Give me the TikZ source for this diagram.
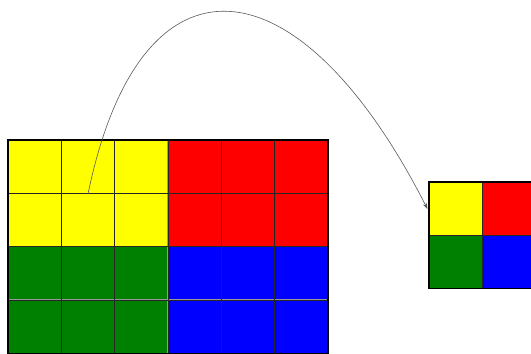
\documentclass[tikz,border=0pt]{standalone}
\usetikzlibrary{arrows.meta}
\definecolor{cy}{RGB}{255,255,0}
\definecolor{cr}{RGB}{255,0,0}
\definecolor{cg}{RGB}{0,128,0}
\definecolor{cb}{RGB}{0,0,255}
\tikzset{
  cellfill/.style={draw=none},
  cellgrey/.style={draw=black!40, line width=1.6pt},
  cellline/.style={draw=black!85, line width=0.6pt},
  frame/.style={draw=black, line width=1.3pt},
  link/.style={draw=black!65, line width=0.6pt, -{Stealth[length=6pt,width=4pt]}}
}
\begin{document}
\begin{tikzpicture}[x=1pt,y=-1pt]
\useasboundingbox (0,0) rectangle (531,354);
\def\s{53.333}
% left grid 6x4 fills
\foreach \c in {0,...,5}{
  \foreach \r in {0,...,3}{
    \pgfmathsetmacro\col{\c<3 ? (\r<2 ? 1 : 3) : (\r<2 ? 2 : 4)}
    \ifcase\col\or
      \def\fc{cy}\or\def\fc{cr}\or\def\fc{cg}\or\def\fc{cb}\fi
    \fill[fill=\fc] (8+\c*\s,140+\r*\s) rectangle ++(\s,\s);
  }
}
% right grid fills
\fill[cy] (429,182) rectangle ++(\s,\s);
\fill[cr] (429+\s,182) rectangle ++(\s,\s);
\fill[cg] (429,182+\s) rectangle ++(\s,\s);
\fill[cb] (429+\s,182+\s) rectangle ++(\s,\s);
% cell borders
\foreach \c in {0,...,5}{
  \foreach \r in {0,...,3}{
    \draw[cellgrey] (8+\c*\s,140+\r*\s) rectangle ++(\s,\s);
  }
}
\foreach \c in {0,1}{
  \foreach \r in {0,1}{
    \draw[cellgrey] (429+\c*\s,182+\r*\s) rectangle ++(\s,\s);
  }
}
\foreach \c in {0,...,5}{
  \foreach \r in {0,...,3}{
    \draw[cellline] (8+\c*\s,140+\r*\s) rectangle ++(\s,\s);
  }
}
\foreach \c in {0,1}{
  \foreach \r in {0,1}{
    \draw[cellline] (429+\c*\s,182+\r*\s) rectangle ++(\s,\s);
  }
}
\draw[frame] (8,140) rectangle (328,353.3);
\draw[frame] (429,182) rectangle (429+2*\s,182+2*\s);
% connector
\coordinate (src) at (88,194);
\coordinate (dst) at (427.5,209);
\draw[link] (src) .. controls (140,-58) and (298,-45) .. (dst);
\end{tikzpicture}
\end{document}
